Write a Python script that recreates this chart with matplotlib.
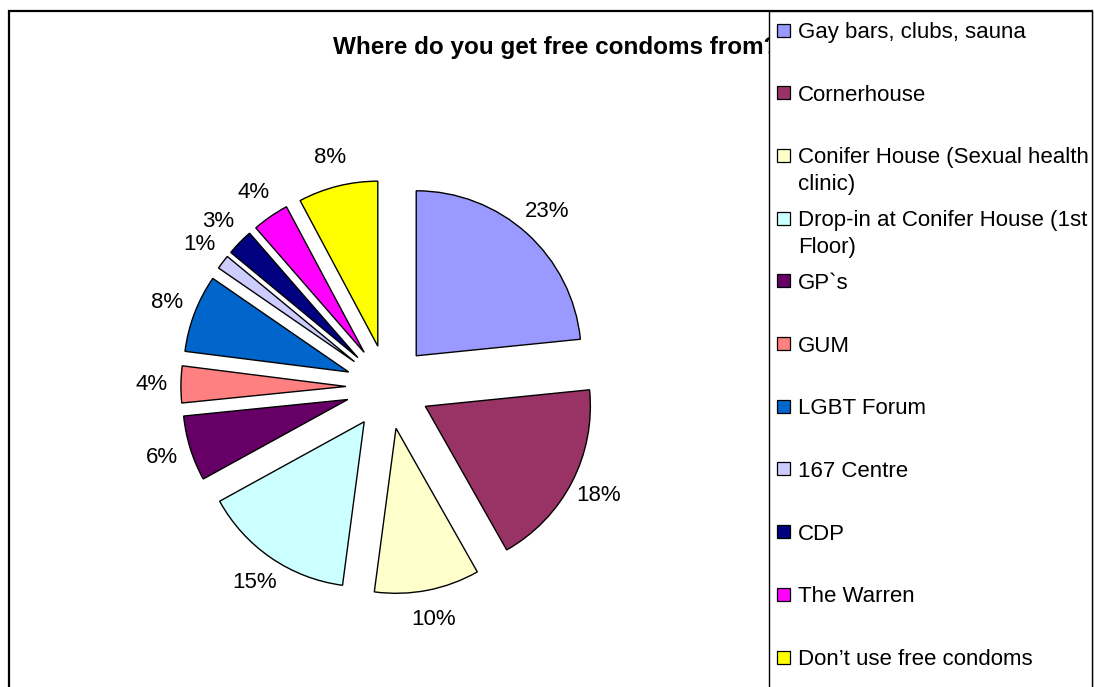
import matplotlib.pyplot as plt
from matplotlib.patches import Rectangle

plt.rcParams['font.family'] = ['Liberation Sans', 'DejaVu Sans']

# DATA (shares, labels as printed on the chart)
labels = ['Gay bars, clubs, sauna', 'Cornerhouse', 'Conifer House (Sexual health\nclinic)',
          'Drop-in at Conifer House (1st\nFloor)', 'GP`s', 'GUM', 'LGBT Forum', '167 Centre',
          'CDP', 'The Warren', 'Don\u2019t use free condoms']
shares = [23.4, 18.4, 10.3, 14.9, 6.4, 3.6, 7.6, 1.4, 2.6, 3.6, 7.8]
colours = ['#9999FF', '#993366', '#FFFFCC', '#CCFFFF', '#660066', '#FF8080',
           '#0066CC', '#CCCCFF', '#000080', '#FF00FF', '#FFFF00']
title = 'Where do you get free condoms from?'

W, H = 1094, 687
fig = plt.figure(figsize=(W / 100, H / 100), dpi=100)

# pie centre and radius in pixels
cx, cy, r = 388, 387, 165
lim = 1.8
half = lim * r
ax = fig.add_axes([(cx - half) / W, (H - cy - half) / H, 2 * half / W, 2 * half / H])
ax.pie(shares, colors=colours, startangle=90, counterclock=False,
       explode=[0.255] * len(shares), autopct='%.0f%%', pctdistance=1.18,
       wedgeprops=dict(edgecolor='black', linewidth=1.0),
       textprops=dict(fontsize=16, color='black'))
ax.set_xlim(-lim, lim)
ax.set_ylim(-lim, lim)
ax.set_aspect('equal')
ax.axis('off')

# title (partly hidden behind the legend box, as in the original)
fig.text(333 / W, 1 - 54 / H, title, ha='left', va='baseline',
         fontsize=17.5, fontweight='bold', zorder=3)

# outer frame
fig.patches.append(Rectangle((9 / W, -0.1), (1092 - 9) / W, 0.1 + 1 - 11 / H,
                             transform=fig.transFigure, fill=False,
                             edgecolor='black', linewidth=1.6, zorder=2))

# legend box
fig.patches.append(Rectangle((769 / W, -0.1), (1092 - 769) / W, 0.1 + 1 - 11 / H,
                             transform=fig.transFigure, facecolor='white',
                             edgecolor='black', linewidth=1.0, zorder=4))

for i, (lab, col) in enumerate(zip(labels, colours)):
    yc = 30 + i * 62.7
    fig.patches.append(Rectangle((777 / W, 1 - (yc + 6.5) / H), 13 / W, 13 / H,
                                 transform=fig.transFigure, facecolor=col,
                                 edgecolor='black', linewidth=0.9, zorder=5))
    first, _, rest = lab.partition('\n')
    fig.text(798 / W, 1 - (yc + 8) / H, first, ha='left', va='baseline',
             fontsize=16, zorder=6)
    if rest:
        fig.text(798 / W, 1 - (yc + 35) / H, rest, ha='left', va='baseline',
                 fontsize=16, zorder=6)

fig.savefig('out.png', dpi=100)
